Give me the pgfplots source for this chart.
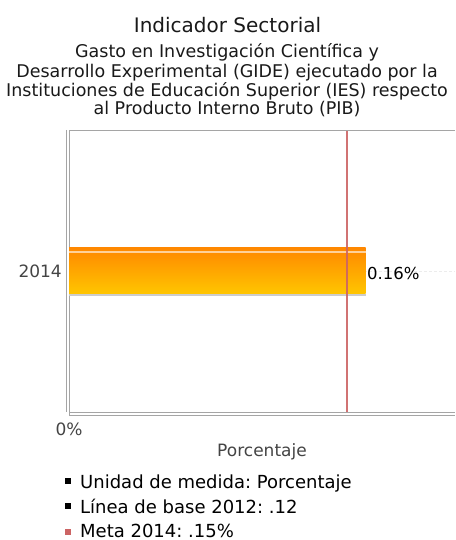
\documentclass[border=0pt]{standalone}
\usepackage{fontspec}
\setmainfont{DejaVu Sans}
\usepackage{pgfplots}
\pgfplotsset{compat=1.18}
\definecolor{barTop}{RGB}{255,136,0}
\definecolor{barBot}{RGB}{255,198,0}
\definecolor{metaRed}{RGB}{204,100,100}
\definecolor{axisGray}{RGB}{165,165,165}
\definecolor{tickGray}{RGB}{68,68,68}
\frenchspacing
\begin{document}
\begin{tikzpicture}[x=1pt,y=1pt]
\useasboundingbox (-69,-128) rectangle (386,412);
\begin{axis}[
  at={(0pt,0pt)}, anchor=south west,
  scale only axis, width=386pt, height=282pt,
  xmin=0, xmax=0.2083, ymin=-1, ymax=1,
  axis x line*=bottom, axis y line*=left,
  axis line style={draw=axisGray, line width=0.8pt, -},
  xtick={0}, xticklabels={0\%},
  ytick={0}, yticklabels={2014},
  ymajorgrids, grid style={densely dashed, gray!15, line width=0.5pt},
  xtick style={draw=axisGray, line width=0.8pt},
  major tick length=4pt, tick align=outside,
  ytick style={draw=none},
  /pgf/number format/assume math mode=true,
  xticklabel style={font=\fontsize{17}{19}\selectfont, text=tickGray, anchor=base, inner sep=0pt, yshift=-19pt},
  yticklabel style={font=\fontsize{17}{19}\selectfont, text=tickGray, anchor=base east, inner sep=0pt, xshift=-3pt, yshift=-7pt},
  clip=false,
]
\addplot[xbar, bar width=46pt, bar shift=0pt, draw=none, top color=barTop, bottom color=barBot,
  nodes near coords={\pgfmathprintnumber[fixed,precision=2,zerofill,assume math mode=true]{\pgfplotspointmeta}\%},
  nodes near coords style={font=\fontsize{16.5}{19}\selectfont, text=black, anchor=west, inner sep=1.5pt, yshift=-2pt}]
  coordinates {(0.16,0)};
\addplot[xbar, bar width=2pt, bar shift=19pt, draw=none, fill=white, fill opacity=0.6]
  coordinates {(0.16,0)};
\addplot[xbar, bar width=2.5pt, bar shift=-24.2pt, draw=none, fill=gray!40]
  coordinates {(0.16,0)};
\addplot[draw=metaRed, line width=2pt, opacity=0.9] coordinates {(0.15,-1) (0.15,1)};
\end{axis}
% extra frame lines
\draw[axisGray, line width=0.8pt] (0,282) -- (386,282);
\draw[axisGray, line width=0.8pt] (-2.5,282) -- (-2.5,0);
\draw[axisGray, line width=0.8pt] (0,-3) -- (386,-3);
% titles
\node[anchor=base, font=\fontsize{20}{24}\selectfont, text=black!90] at (158.5,379) {Indicador Sectorial};
\node[anchor=base, font=\fontsize{17.5}{19}\selectfont, text=black!90] at (158,354.7) {Gasto en Investigación Científica y};
\node[anchor=base, font=\fontsize{17.5}{19}\selectfont, text=black!90] at (158,334.7) {Desarrollo Experimental (GIDE) ejecutado por la};
\node[anchor=base, font=\fontsize{17.5}{19}\selectfont, text=black!90] at (158,315.3) {Instituciones de Educación Superior (IES) respecto};
\node[anchor=base, font=\fontsize{17.5}{19}\selectfont, text=black!90] at (158,297) {al Producto Interno Bruto (PIB)};
% axis title
\node[anchor=base, font=\fontsize{17}{19}\selectfont, text=tickGray] at (193,-45) {Porcentaje};
% legend
\fill[black] (-4,-72) rectangle (2,-66);
\node[anchor=base west, inner sep=0pt, font=\fontsize{18}{20}\selectfont] at (11,-76) {Unidad de medida: Porcentaje};
\fill[black] (-4,-97) rectangle (2,-91);
\node[anchor=base west, inner sep=0pt, font=\fontsize{18}{20}\selectfont] at (11,-101) {Línea de base 2012: .12};
\fill[metaRed] (-4,-123) rectangle (2,-117);
\node[anchor=base west, inner sep=0pt, font=\fontsize{18}{20}\selectfont] at (11,-125) {Meta 2014: .15\%};
\end{tikzpicture}
\end{document}
